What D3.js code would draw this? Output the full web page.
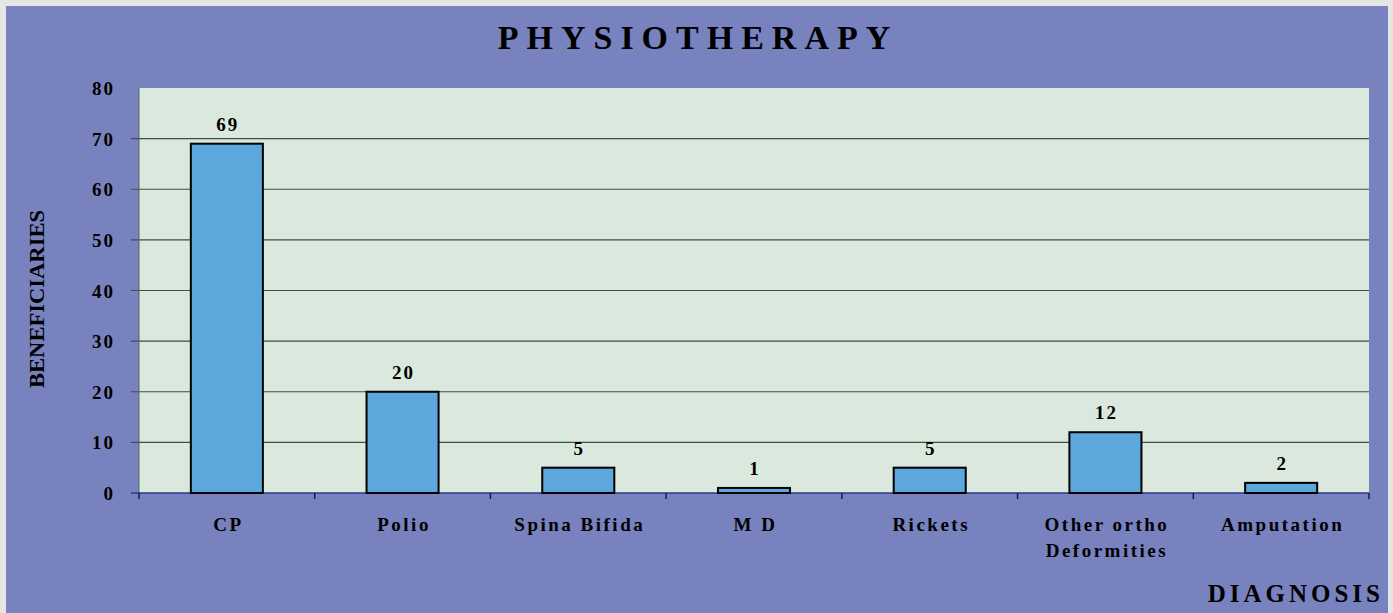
<!DOCTYPE html>
<html>
<head>
<meta charset="utf-8">
<script src="https://cdn.jsdelivr.net/npm/d3@7"></script>
<style>
  body { margin: 0; background: #e6e8e6; }
  svg text { font-family: "Liberation Serif", "DejaVu Serif", serif; font-weight: bold; fill: #000; }
</style>
</head>
<body>
<div id="chart"></div>
<script>
var categories = ["CP", "Polio", "Spina Bifida", "M D", "Rickets", "Other ortho|Deformities", "Amputation"];
var values = [69, 20, 5, 1, 5, 12, 2];
var yTicks = [0, 10, 20, 30, 40, 50, 60, 70, 80];

var W = 1393, H = 613;
var pLeft = 139, pRight = 1369, pTop = 88, pBottom = 493;

var svg = d3.select("#chart").append("svg")
    .attr("width", W).attr("height", H);

// frame
svg.append("rect").attr("x", 0).attr("y", 0).attr("width", W).attr("height", H).attr("fill", "#e4e6e3");
svg.append("rect").attr("x", 6).attr("y", 6).attr("width", 1382).attr("height", H - 6).attr("fill", "#7882be");

var x = d3.scaleBand().domain(categories).range([pLeft, pRight]).paddingInner(0.59).paddingOuter(0.295);
var y = d3.scaleLinear().domain([0, 80]).range([pBottom, pTop]);

// plot area
svg.append("rect").attr("x", pLeft).attr("y", pTop)
    .attr("width", pRight - pLeft).attr("height", pBottom - pTop)
    .attr("fill", "#dbe8dd");

// gridlines
svg.append("g").selectAll("line").data(yTicks.filter(function(d) { return d > 0 && d < 80; }))
  .enter().append("line")
    .attr("x1", pLeft - 8).attr("x2", pRight)
    .attr("y1", function(d) { return y(d); }).attr("y2", function(d) { return y(d); })
    .attr("stroke", "#3f4f45").attr("stroke-width", 1.2);

// y axis labels
svg.append("g").selectAll("text").data(yTicks).enter().append("text")
    .attr("x", 115).attr("y", function(d) { return y(d) + 7; })
    .attr("text-anchor", "end")
    .style("font-size", "19px").style("letter-spacing", "2px")
    .text(function(d) { return d; });

svg.append("line").attr("x1", pLeft).attr("x2", pLeft).attr("y1", pTop).attr("y2", pBottom)
    .attr("stroke", "#4f6a60").attr("stroke-width", 1);
svg.append("line").attr("x1", pLeft - 8).attr("x2", pRight).attr("y1", pBottom).attr("y2", pBottom)
    .attr("stroke", "#2a3a8a").attr("stroke-width", 1.5);

// category boundary ticks
svg.append("g").selectAll("line").data(d3.range(categories.length + 1)).enter().append("line")
    .attr("x1", function(i) { return pLeft + i * (pRight - pLeft) / categories.length; })
    .attr("x2", function(i) { return pLeft + i * (pRight - pLeft) / categories.length; })
    .attr("y1", pBottom).attr("y2", pBottom + 6)
    .attr("stroke", "#1a1a4a").attr("stroke-width", 1.5);

// bars
svg.append("g").selectAll("rect").data(values).enter().append("rect")
    .attr("x", function(d, i) { return x(categories[i]); })
    .attr("y", function(d) { return y(d); })
    .attr("width", x.bandwidth())
    .attr("height", function(d) { return pBottom - y(d); })
    .attr("fill", "#5ca8dc").attr("stroke", "#000").attr("stroke-width", 2);

// value labels
svg.append("g").selectAll("text").data(values).enter().append("text")
    .attr("x", function(d, i) { return x(categories[i]) + x.bandwidth() / 2 + 1; })
    .attr("y", function(d) { return y(d) - 13; })
    .attr("text-anchor", "middle")
    .style("font-size", "19px").style("letter-spacing", "2px")
    .text(function(d) { return d; });

// category labels
var cl = svg.append("g").selectAll("text").data(categories).enter().append("text")
    .attr("x", function(d) { return x(d) + x.bandwidth() / 2 + 1.5; })
    .attr("y", 531)
    .attr("text-anchor", "middle")
    .style("font-size", "19px").style("letter-spacing", "2.5px");
cl.each(function(d) {
  var parts = d.split("|");
  var t = d3.select(this);
  parts.forEach(function(p, j) {
    t.append("tspan").attr("x", t.attr("x")).attr("dy", j === 0 ? 0 : 26).text(p);
  });
});

// title
svg.append("text").attr("x", 698).attr("y", 49).attr("text-anchor", "middle")
    .style("font-size", "34px").style("letter-spacing", "8px")
    .text("PHYSIOTHERAPY");

// y axis title
svg.append("text")
    .attr("transform", "translate(44,299) rotate(-90)")
    .attr("text-anchor", "middle")
    .attr("textLength", 178).attr("lengthAdjust", "spacingAndGlyphs")
    .style("font-size", "22px")
    .text("BENEFICIARIES");

// x axis title
svg.append("text").attr("x", 1384).attr("y", 602).attr("text-anchor", "end")
    .style("font-size", "25px").style("letter-spacing", "4px")
    .text("DIAGNOSIS");
</script>
</body>
</html>
